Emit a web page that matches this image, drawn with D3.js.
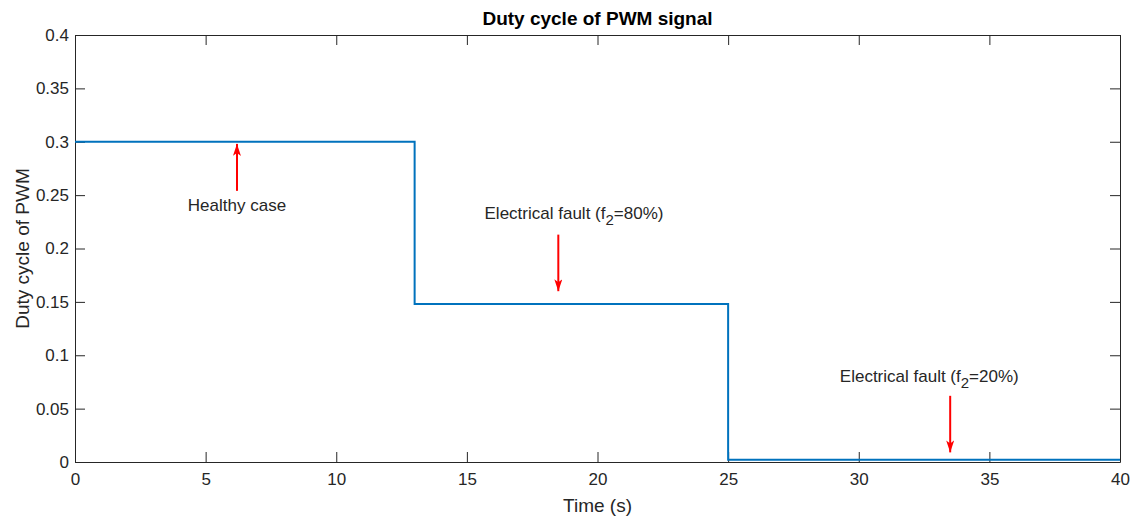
<!DOCTYPE html>
<html>
<head>
<meta charset="utf-8">
<script src="https://cdn.jsdelivr.net/npm/d3@7"></script>
<style>
  body { margin: 0; background: #fff; }
  text { font-family: "Liberation Sans", Arial, sans-serif; fill: #262626; }
</style>
</head>
<body>
<svg id="chart" width="1137" height="518"></svg>
<script>
// step signal: duty cycle over time
var times = [0, 13, 25, 40];
var duty = [0.3, 0.148, 0.002];

var xTicks = [0, 5, 10, 15, 20, 25, 30, 35, 40];
var yTicks = [0, 0.05, 0.1, 0.15, 0.2, 0.25, 0.3, 0.35, 0.4];

// annotations: label, text pos (data), arrow tail/head (data)
var annLabels = ["Healthy case", "Electrical fault (f|2|=80%)", "Electrical fault (f|2|=20%)"];
var annTextX = [6.2, 19.1, 32.7];
var annTextY = [0.235, 0.228, 0.075];
var arrowX = [6.2, 18.5, 33.5];
var arrowFrom = [0.254, 0.213, 0.062];
var arrowTo = [0.298, 0.160, 0.009];

var svg = d3.select("#chart"),
    margin = {top: 35, left: 75, bottom: 56, right: 17},
    width = +svg.attr("width"),
    height = +svg.attr("height");

var x = d3.scaleLinear().domain([0, 40]).range([margin.left, width - margin.right]);
var y = d3.scaleLinear().domain([0, 0.4]).range([height - margin.bottom, margin.top]);

svg.append("defs").append("marker")
    .attr("id", "head")
    .attr("viewBox", "0 0 12 8")
    .attr("refX", 12).attr("refY", 4)
    .attr("markerWidth", 12).attr("markerHeight", 8)
    .attr("markerUnits", "userSpaceOnUse")
    .attr("orient", "auto")
  .append("path").attr("d", "M0,0 L12,4 L0,8 L3,4 Z").attr("fill", "#ff0000");

var tickLen = 10;
var axisColor = "#262626";

// bottom axis (ticks inward)
var xAxis = svg.append("g").attr("transform", `translate(0,${y(0)})`)
    .call(d3.axisBottom(x).tickValues(xTicks).tickSizeInner(-tickLen).tickSizeOuter(0).tickPadding(11));
// top axis
var xTop = svg.append("g").attr("transform", `translate(0,${y(0.4)})`)
    .call(d3.axisTop(x).tickValues(xTicks).tickSizeInner(-tickLen).tickSizeOuter(0).tickFormat(""));
// left axis
var yAxis = svg.append("g").attr("transform", `translate(${x(0)},0)`)
    .call(d3.axisLeft(y).tickValues(yTicks).tickSizeInner(-tickLen).tickSizeOuter(0).tickPadding(6)
    .tickFormat(d => d3.format("")(+d.toFixed(2))));
// right axis
var yRight = svg.append("g").attr("transform", `translate(${x(40)},0)`)
    .call(d3.axisRight(y).tickValues(yTicks).tickSizeInner(-tickLen).tickSizeOuter(0).tickFormat(""));

[xAxis, xTop, yAxis, yRight].forEach(function(g) {
    g.select(".domain").attr("stroke", axisColor).attr("stroke-width", 1);
    g.selectAll(".tick line").attr("stroke", axisColor).attr("stroke-width", 1);
    g.selectAll(".tick text").attr("font-size", 17).attr("fill", axisColor)
        .style("font-family", '"Liberation Sans", Arial, sans-serif');
});

// step line
var stepData = [];
duty.forEach(function(v, i) {
    stepData.push([times[i], v]);
    stepData.push([times[i + 1], v]);
});
svg.append("path")
    .datum(stepData)
    .attr("fill", "none")
    .attr("stroke", "#0072BD")
    .attr("stroke-width", 2)
    .attr("d", d3.line().x(d => x(d[0])).y(d => y(d[1])));

// arrows
arrowX.forEach(function(ax, i) {
    svg.append("line")
        .attr("x1", x(ax)).attr("y1", y(arrowFrom[i]))
        .attr("x2", x(ax)).attr("y2", y(arrowTo[i]))
        .attr("stroke", "#ff0000").attr("stroke-width", 2)
        .attr("marker-end", "url(#head)");
});

// annotation texts (with subscript)
annLabels.forEach(function(lbl, i) {
    var parts = lbl.split("|");
    var t = svg.append("text")
        .attr("x", x(annTextX[i])).attr("y", y(annTextY[i]))
        .attr("text-anchor", "middle")
        .attr("font-size", 17);
    t.append("tspan").text(parts[0]);
    if (parts.length > 1) {
        t.append("tspan").attr("dy", 6).attr("font-size", 15).text(parts[1]);
        t.append("tspan").attr("dy", -6).text(parts[2]);
    }
});

// title
svg.append("text")
    .attr("x", (x(0) + x(40)) / 2).attr("y", 25)
    .attr("text-anchor", "middle")
    .attr("font-size", 19).attr("font-weight", "bold")
    .style("fill", "#000")
    .text("Duty cycle of PWM signal");

// axis labels
svg.append("text")
    .attr("x", (x(0) + x(40)) / 2).attr("y", 512)
    .attr("text-anchor", "middle")
    .attr("font-size", 19)
    .text("Time (s)");

svg.append("text")
    .attr("transform", `translate(29,${(y(0) + y(0.4)) / 2}) rotate(-90)`)
    .attr("text-anchor", "middle")
    .attr("font-size", 19)
    .text("Duty cycle of PWM");
</script>
</body>
</html>
